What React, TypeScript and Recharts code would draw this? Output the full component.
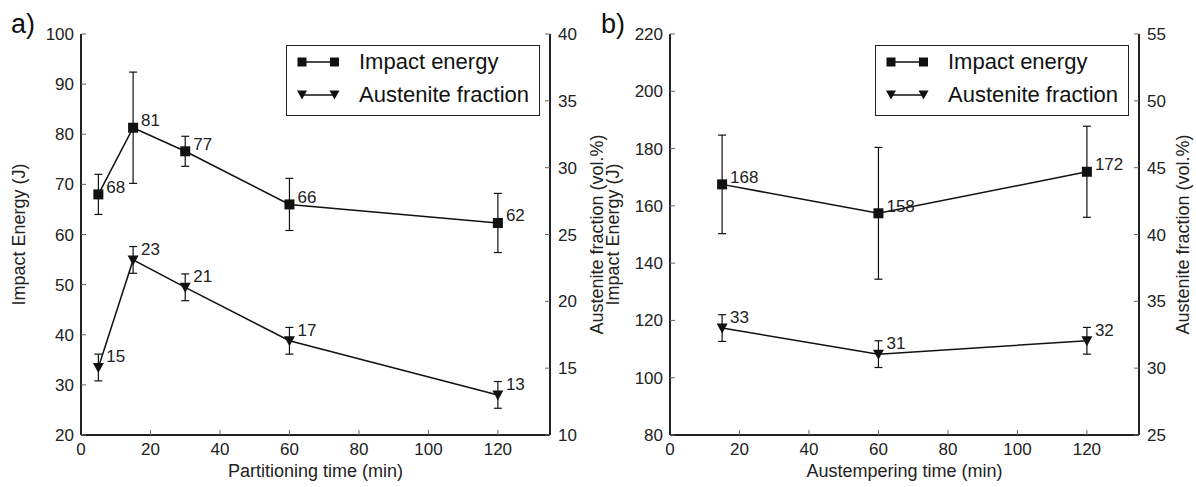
import React from 'react';
import { ComposedChart, Line, XAxis, YAxis, ErrorBar, LabelList, Label, Legend } from 'recharts';

const FONT = '"Liberation Sans", Arial, Helvetica, sans-serif';
const INK = '#111';
const TICK_INK = '#222';

// ---------- Panel a) partitioning ----------
const partitionTime = [5, 15, 30, 60, 120];
const partitionEnergy = [68, 81.3, 76.6, 66, 62.3];
const partitionEnergyErr = [4, 11.1, 3, 5.2, 5.9];
const partitionEnergyLabels = ['68', '81', '77', '66', '62'];
const partitionAustenite = [15.05, 23.1, 21.05, 17.05, 13.0];
const partitionAusteniteErr = [1, 1, 1, 1, 1];
const partitionAusteniteLabels = ['15', '23', '21', '17', '13'];

// ---------- Panel b) austempering ----------
const austemperTime = [15, 60, 120];
const austemperEnergy = [167.5, 157.4, 171.9];
const austemperEnergyErr = [17.2, 23, 15.9];
const austemperEnergyLabels = ['168', '158', '172'];
const austemperAustenite = [33, 31.05, 32.05];
const austemperAusteniteErr = [1, 1, 1];
const austemperAusteniteLabels = ['33', '31', '32'];

// ---------- Axes ----------
const timeDomain = [0, 135];
const timeTicks = [0, 20, 40, 60, 80, 100, 120];
const energyTicksA = [20, 30, 40, 50, 60, 70, 80, 90, 100];
const austTicksA = [10, 15, 20, 25, 30, 35, 40];
const energyTicksB = [80, 100, 120, 140, 160, 180, 200, 220];
const austTicksB = [25, 30, 35, 40, 45, 50, 55];
const legendNames = ['Impact energy', 'Austenite fraction'];

const partitionRows = partitionTime.map((t, i) => ({
  t,
  energy: partitionEnergy[i],
  energyErr: partitionEnergyErr[i],
  energyLabel: partitionEnergyLabels[i],
  aust: partitionAustenite[i],
  austErr: partitionAusteniteErr[i],
  austLabel: partitionAusteniteLabels[i],
}));

const austemperRows = austemperTime.map((t, i) => ({
  t,
  energy: austemperEnergy[i],
  energyErr: austemperEnergyErr[i],
  energyLabel: austemperEnergyLabels[i],
  aust: austemperAustenite[i],
  austErr: austemperAusteniteErr[i],
  austLabel: austemperAusteniteLabels[i],
}));

const SquareDot = (p: any) => {
  if (p.cx == null || p.cy == null) return <g key={`sq-${p.index}`} />;
  return <rect key={`sq-${p.index}`} x={p.cx - 5} y={p.cy - 5} width={10} height={10} fill={INK} />;
};

const TriDot = (p: any) => {
  if (p.cx == null || p.cy == null) return <g key={`tr-${p.index}`} />;
  return (
    <path
      key={`tr-${p.index}`}
      d={`M${p.cx - 5.5},${p.cy - 4.5}L${p.cx + 5.5},${p.cy - 4.5}L${p.cx},${p.cy + 5.5}Z`}
      fill={INK}
    />
  );
};

const valueLabel = (dy: number) => (p: any) => (
  <text x={p.x + 8} y={p.y + dy} fontSize={17} fill={TICK_INK} fontFamily={FONT}>
    {p.value}
  </text>
);

const xTitle = (text: string) => (p: any) => {
  const vb = p.viewBox || {};
  return (
    <text
      x={vb.x + vb.width / 2}
      y={vb.y + 36}
      textAnchor="middle"
      dominantBaseline="central"
      fontSize={18}
      fill={TICK_INK}
      fontFamily={FONT}
    >
      {text}
    </text>
  );
};

const yTitle = (text: string, dx: number) => (p: any) => {
  const vb = p.viewBox || {};
  const cx = vb.x + dx;
  const cy = vb.y + vb.height / 2;
  return (
    <text
      x={cx}
      y={cy}
      transform={`rotate(-90 ${cx} ${cy})`}
      textAnchor="middle"
      dominantBaseline="central"
      fontSize={18}
      fill={TICK_INK}
      fontFamily={FONT}
    >
      {text}
    </text>
  );
};

const LegendBox = () => (
  <div
    style={{
      width: 254,
      height: 71,
      border: '1.5px solid #222',
      boxSizing: 'border-box',
      background: '#fff',
      position: 'relative',
      fontFamily: FONT,
      fontSize: 22,
      color: INK,
    }}
  >
    {legendNames.map((name, i) => (
      <div
        key={name}
        style={{ position: 'absolute', left: 0, top: i === 0 ? 3 : 36, height: 26, display: 'flex', alignItems: 'center' }}
      >
        <svg width={72} height={26} style={{ display: 'block' }}>
          <line x1={14} y1={13} x2={48} y2={13} stroke={INK} strokeWidth={1.5} />
          {i === 0 ? (
            <>
              <rect x={10.5} y={8.5} width={9} height={9} fill={INK} />
              <rect x={43} y={8.5} width={9} height={9} fill={INK} />
            </>
          ) : (
            <>
              <path d="M10,8.5L20,8.5L15,17.5Z" fill={INK} />
              <path d="M42.5,8.5L52.5,8.5L47.5,17.5Z" fill={INK} />
            </>
          )}
        </svg>
        <span style={{ lineHeight: '26px', whiteSpace: 'nowrap' }}>{name}</span>
      </div>
    ))}
  </div>
);

const axisLine = { stroke: '#222', strokeWidth: 2 };
const tickLine = { stroke: '#666', strokeWidth: 1 };
const tickStyle = { fontSize: 17, fill: TICK_INK, fontFamily: FONT };

type PanelProps = {
  rows: any[];
  width: number;
  leftW: number;
  rightW: number;
  marginRight: number;
  energyDomain: number[];
  energyTicks: number[];
  austDomain: number[];
  austTicks: number[];
  xLabel: string;
  leftTitleDx: number;
  rightTitleDx: number;
  legendLeft: number;
};

const Panel = (pp: PanelProps) => (
  <ComposedChart
    width={pp.width}
    height={487}
    data={pp.rows}
    margin={{ top: 34, right: pp.marginRight, bottom: 0, left: 0 }}
  >
    <XAxis
      dataKey="t"
      type="number"
      domain={timeDomain}
      ticks={timeTicks}
      allowDataOverflow
      height={52}
      tickSize={-5}
      tickMargin={13}
      axisLine={axisLine}
      tickLine={tickLine}
      tick={tickStyle}
    >
      <Label content={xTitle(pp.xLabel)} />
    </XAxis>
    <XAxis
      xAxisId="top"
      dataKey="t"
      orientation="top"
      type="number"
      domain={timeDomain}
      ticks={timeTicks}
      allowDataOverflow
      height={0}
      tickSize={-5}
      tick={false}
      axisLine={axisLine}
      tickLine={tickLine}
    />
    <YAxis
      yAxisId="left"
      type="number"
      domain={pp.energyDomain}
      ticks={pp.energyTicks}
      allowDataOverflow
      width={pp.leftW}
      tickSize={-5}
      tickMargin={12}
      axisLine={axisLine}
      tickLine={tickLine}
      tick={tickStyle}
    >
      <Label content={yTitle('Impact Energy (J)', pp.leftTitleDx)} />
    </YAxis>
    <YAxis
      yAxisId="right"
      orientation="right"
      type="number"
      domain={pp.austDomain}
      ticks={pp.austTicks}
      allowDataOverflow
      width={pp.rightW}
      tickSize={-5}
      tickMargin={13}
      axisLine={axisLine}
      tickLine={tickLine}
      tick={tickStyle}
    >
      <Label content={yTitle('Austenite fraction (vol.%)', pp.rightTitleDx)} />
    </YAxis>
    <Legend
      layout="vertical"
      align="center"
      verticalAlign="middle"
      content={() => <LegendBox />}
      wrapperStyle={{ left: pp.legendLeft, top: 45, width: 254, height: 71 }}
    />
    <Line
      yAxisId="left"
      dataKey="energy"
      name={legendNames[0]}
      stroke={INK}
      strokeWidth={1.5}
      dot={SquareDot}
      activeDot={false}
      isAnimationActive={false}
    >
      <ErrorBar dataKey="energyErr" direction="y" width={4} stroke={INK} strokeWidth={1.2} />
      <LabelList dataKey="energyLabel" content={valueLabel(-1.5)} />
    </Line>
    <Line
      yAxisId="right"
      dataKey="aust"
      name={legendNames[1]}
      stroke={INK}
      strokeWidth={1.5}
      dot={TriDot}
      activeDot={false}
      isAnimationActive={false}
    >
      <ErrorBar dataKey="austErr" direction="y" width={4} stroke={INK} strokeWidth={1.2} />
      <LabelList dataKey="austLabel" content={valueLabel(-5)} />
    </Line>
  </ComposedChart>
);

export default function App() {
  return (
    <div style={{ position: 'absolute', left: 0, top: 0, width: 1196, height: 487, background: '#fff', overflow: 'hidden' }}>
      <div style={{ position: 'absolute', left: 0, top: 0 }}>
        <Panel
          rows={partitionRows}
          width={612}
          leftW={81}
          rightW={48}
          marginRight={14}
          energyDomain={[20, 100]}
          energyTicks={energyTicksA}
          austDomain={[10, 40]}
          austTicks={austTicksA}
          xLabel="Partitioning time (min)"
          leftTitleDx={19}
          rightTitleDx={47}
          legendLeft={286}
        />
      </div>
      <div style={{ position: 'absolute', left: 598, top: 0 }}>
        <Panel
          rows={austemperRows}
          width={598}
          leftW={72}
          rightW={57}
          marginRight={0}
          energyDomain={[80, 220]}
          energyTicks={energyTicksB}
          austDomain={[25, 55]}
          austTicks={austTicksB}
          xLabel="Austempering time (min)"
          leftTitleDx={15}
          rightTitleDx={44}
          legendLeft={277}
        />
      </div>
      <svg width={1196} height={487} style={{ position: 'absolute', left: 0, top: 0, pointerEvents: 'none' }}>
        <text x={11} y={33} fontSize={27} fill={INK} fontFamily={FONT}>a)</text>
        <text x={601} y={33} fontSize={27} fill={INK} fontFamily={FONT}>b)</text>
      </svg>
    </div>
  );
}
